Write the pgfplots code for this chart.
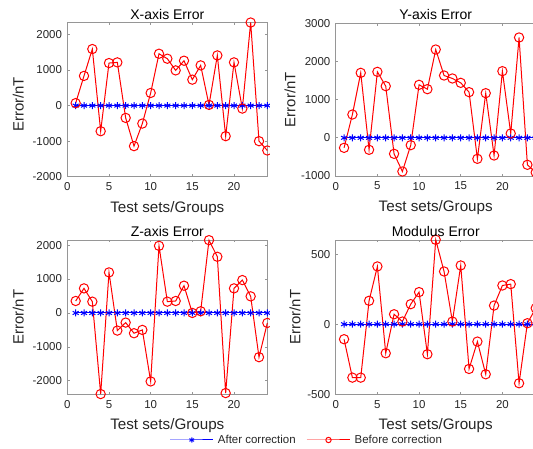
\documentclass[border=0pt]{standalone}
\usepackage{pgfplots}
\pgfplotsset{compat=1.18}
\usepackage{pgfplotstable}
\usepackage{fontspec}
\setmainfont{Liberation Sans}
\definecolor{axgray}{RGB}{150,150,150}
\definecolor{txtgray}{RGB}{38,38,38}

\pgfplotstableread{
x  X     Y     Z     M
1  70    -262  353   -107
2  835   611   725   -381
3  1590  1703  333   -381
4  -720  -314  -2392 167
5  1196  1729  1196  412
6  1215  1354  -520  -207
7  -346  -419  -284  71
8  -1140 -882  -598  19
9  -505  -192  -500  143
10 355   1389  -2020 229
11 1458  1275  1980  -214
12 1318  2314  333   602
13 990   1633  353   376
14 1262  1555  804   19
15 729   1441  0     419
16 1131  1197  50    -319
17 20    -550  2147  -124
18 1411  1170  1657  -357
19 -860  -463  -2363 133
20 1215  1747  725   276
21 -84   114   970   286
22 2336  2629  490   -421
23 -1000 -707  -1304 7
24 -1262 -908  -294  114
}\errtable

\pgfplotsset{
  myax/.style={
    scale only axis,
    width=150pt,
    xmin=0, xmax=24,
    xtick={0,5,10,15,20},
    tick align=inside,
    major tick length=1.8pt,
    axis line style={axgray, line width=0.5pt},
    every tick/.style={axgray, line width=0.5pt},
    tick label style={font=\fontsize{8.6}{10}\selectfont, text=txtgray},
    /pgf/number format/assume math mode=true,
    /pgf/number format/set thousands separator={},
    xticklabel style={yshift=-1pt},
    yticklabel style={xshift=-0.5pt},
    every axis x label/.style={at={(axis description cs:0.5,-0.205)}, anchor=center, font=\fontsize{11.4}{13}\selectfont, text=txtgray},
    every axis title/.style={at={(axis description cs:0.5,1.055)}, anchor=center, font=\fontsize{10.5}{12}\selectfont, text=black},
    xlabel={Test sets/Groups},
    ylabel={Error/nT},
    clip=false,
  },
  ylab/.style={every axis y label/.style={at={(axis description cs:#1)}, rotate=90, anchor=center, font=\fontsize{11.2}{13}\selectfont, text=txtgray}},
  bluel/.style={blue, line width=0.75pt, mark=asterisk, mark size=2.6pt, mark options={solid, line width=0.75pt}},
  redl/.style={red, line width=0.75pt, mark=o, mark size=3.5pt, mark options={solid, line width=0.75pt}},
}

\begin{document}
\begin{tikzpicture}
\useasboundingbox (0,0) rectangle (399.75pt,336.75pt);
\clip (0,0) rectangle (399.75pt,336.75pt);

% Top-left: X
\begin{axis}[myax, at={(50.5pt,204.2pt)}, anchor=south west, height=115.5pt,
  ymin=-2000, ymax=2330, ytick={-2000,-1000,0,1000,2000},
  ylab={-0.245,0.47},
  title={X-axis Error}]
\addplot[bluel] table[x=x, y expr=0*\thisrow{X}] {\errtable};
\addplot[redl] table[x=x, y=X] {\errtable};
\end{axis}

% Bottom-left: Z
\begin{axis}[myax, at={(50.5pt,41pt)}, anchor=south west, height=115.7pt,
  ymin=-2400, ymax=2150, ytick={-2000,-1000,0,1000,2000},
  ylab={-0.245,0.5},
  title={Z-axis Error}]
\addplot[bluel] table[x=x, y expr=0*\thisrow{Z}] {\errtable};
\addplot[redl] table[x=x, y=Z] {\errtable};
\end{axis}

% crop of the left column, as in the reference
\fill[white] (202.5pt,25.5pt) rectangle (226pt,336.75pt);

% Top-right: Y
\begin{axis}[myax, at={(251.8pt,204.75pt)}, anchor=south west, height=114.5pt,
  ymin=-1000, ymax=3000, ytick={-1000,0,1000,2000,3000},
  ylab={-0.2285,0.5},
  title={Y-axis Error}]
\addplot[bluel] table[x=x, y expr=0*\thisrow{Y}] {\errtable};
\addplot[redl] table[x=x, y=Y] {\errtable};
\end{axis}

% Bottom-right: Modulus (holds the shared legend)
\begin{axis}[myax, at={(251.8pt,41pt)}, anchor=south west, height=115.7pt,
  ymin=-500, ymax=600, ytick={-500,0,500},
  ylab={-0.2035,0.5},
  title={Modulus Error},
  legend columns=2,
  legend style={at={(axis description cs:-0.832,-0.296)}, anchor=west, draw=none, fill=none,
    font=\fontsize{8.6}{10}\selectfont, text=txtgray, inner sep=0pt,
    nodes={inner xsep=3pt, inner ysep=1pt},
    /tikz/every even column/.append style={column sep=5pt}},
  legend image code/.code={\draw[#1, mark repeat=2, mark phase=2, mark size=2pt] plot coordinates {(0pt,0pt) (16.25pt,0pt) (32.5pt,0pt)};},
  ]
\addplot[bluel] table[x=x, y expr=0*\thisrow{M}] {\errtable};
\addlegendentry{After correction}
\addplot[redl] table[x=x, y=M] {\errtable};
\addlegendentry{Before correction}
\end{axis}
\end{tikzpicture}
\end{document}
